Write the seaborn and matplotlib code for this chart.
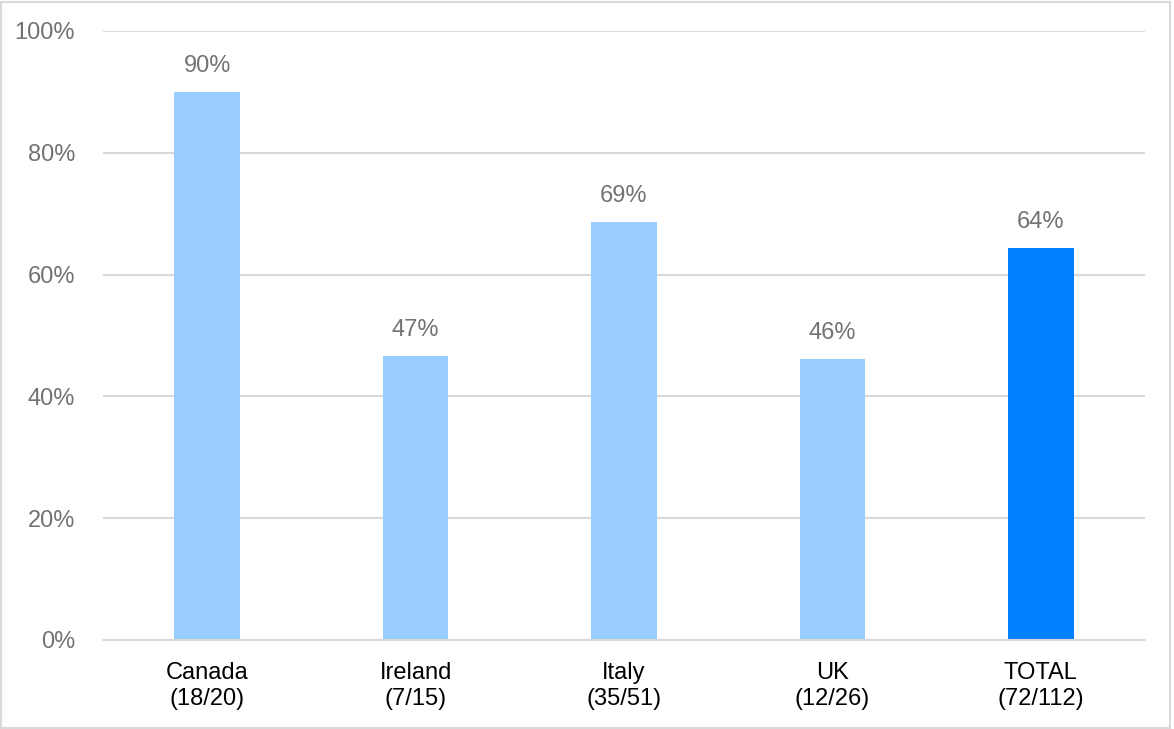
import matplotlib
matplotlib.use("Agg")
import matplotlib.pyplot as plt
import matplotlib.ticker as ticker
from matplotlib.patches import Rectangle
import pandas as pd
import seaborn as sns

# Dane
countries = ["Canada", "Ireland", "Italy", "UK", "TOTAL"]
hits = [18, 7, 35, 12, 72]
totals = [20, 15, 51, 26, 112]
bar_colors = ["#99CCFF", "#99CCFF", "#99CCFF", "#99CCFF", "#007FFF"]

df = pd.DataFrame({"country": countries, "hits": hits, "total": totals})
df["pct"] = df["hits"] / df["total"] * 100
df["label"] = [f"{c}\n({h}/{t})" for c, h, t in zip(countries, hits, totals)]

sns.set_style("white")
plt.rcParams["font.family"] = ["Liberation Sans", "DejaVu Sans"]

fig = plt.figure(figsize=(11.74, 7.29), dpi=100)
ax = fig.add_axes([0.0877, 0.1221, 0.8876, 0.8354])

sns.barplot(data=df, x="label", y="pct", hue="label", palette=bar_colors,
            width=0.315, saturation=1, linewidth=0, legend=False, ax=ax)

ax.set_xlim(-0.5, len(countries) - 0.5)
ax.set_ylim(0, 100)
ax.yaxis.set_major_locator(ticker.MultipleLocator(20))
ax.yaxis.set_major_formatter(ticker.FuncFormatter(lambda v, _: f"{v:.0f}%"))
ax.grid(True, axis="y", color="#D9D9D9", linewidth=1.5)
ax.set_axisbelow(True)
for side in ["top", "right", "left"]:
    ax.spines[side].set_visible(False)
ax.spines["bottom"].set_color("#D9D9D9")
ax.spines["bottom"].set_linewidth(1.5)

ax.set_xlabel("")
ax.set_ylabel("")
ax.tick_params(axis="y", length=0, pad=20, labelsize=17, labelcolor="#767171")
ax.tick_params(axis="x", length=0, pad=16, labelsize=17, labelcolor="black")

for container in ax.containers:
    ax.bar_label(container, fmt="%.0f%%", padding=11, fontsize=17, color="#767171")

# ramka wokół całego obrazu
fig.patches.append(Rectangle((0.001, 0.002), 0.996, 0.995, transform=fig.transFigure,
                             fill=False, edgecolor="#D9D9D9", linewidth=1.5))

plt.savefig("out.png", dpi=100)
plt.close()
